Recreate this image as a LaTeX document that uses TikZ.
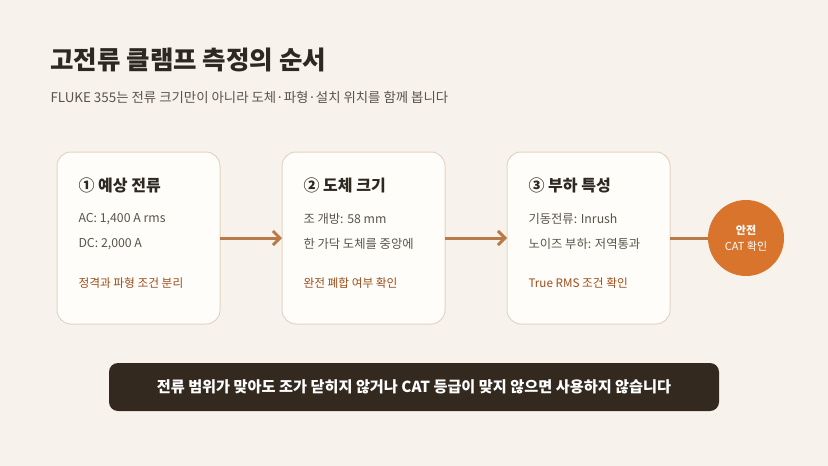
\documentclass[tikz,border=0pt]{standalone}
\usepackage{fontspec}
\setmainfont{Noto Sans CJK KR}
\usetikzlibrary{arrows.meta}
\definecolor{bgcol}{HTML}{F7F3EC}
\definecolor{cardcol}{HTML}{FFFDF9}
\definecolor{edgecol}{HTML}{E2D5C3}
\definecolor{inkcol}{HTML}{2E2822}
\definecolor{graycol}{HTML}{5A534C}
\definecolor{notecol}{HTML}{9A4E1C}
\definecolor{arrowcol}{HTML}{B97A47}
\definecolor{safecol}{HTML}{D8742B}
\definecolor{barcol}{HTML}{33291F}
\tikzset{
  card/.style={draw=edgecol, line width=1pt, fill=cardcol, rounded corners=14pt},
  head/.style={anchor=west, font=\fontsize{16}{18}\selectfont\bfseries, text=inkcol},
  item/.style={anchor=west, font=\fontsize{12.3}{14}\selectfont, text=graycol},
  note/.style={anchor=west, font=\fontsize{11.7}{13}\selectfont, text=notecol},
  flow/.style={draw=arrowcol, line width=3pt, -{Straight Barb[length=7pt,width=14pt]}},
}
\begin{document}
\begin{tikzpicture}[x=1pt,y=-1pt]
  \fill[bgcol] (0,0) rectangle (828,466);
  \useasboundingbox (0,0) rectangle (828,466);

  \node[anchor=west, font=\fontsize{25.5}{28}\selectfont\bfseries, text=inkcol] (title) at (47,60) {고전류 클램프 측정의 순서};
  \node[anchor=west, font=\fontsize{13.4}{15}\selectfont, text=graycol] (sub) at (47,97) {FLUKE 355는 전류 크기만이 아니라 도체·파형·설치 위치를 함께 봅니다};

  % cards
  \draw[card] (57,152) rectangle (220,324);
  \node (cardA) at (138.5,238) {};
  \node[head] at (75,185) {① 예상 전류};
  \node[item] at (75,219) {AC: 1,400 A rms};
  \node[item] at (75,244) {DC: 2,000 A};
  \node[note] at (75,283) {정격과 파형 조건 분리};

  \draw[card] (282,152) rectangle (445,324);
  \node (cardB) at (363.5,238) {};
  \node[head] at (300,185) {② 도체 크기};
  \node[item] at (300,219) {조 개방: 58 mm};
  \node[item] at (300,244) {한 가닥 도체를 중앙에};
  \node[note] at (300,283) {완전 폐합 여부 확인};

  \draw[card] (507,152) rectangle (670,324);
  \node (cardC) at (588.5,238) {};
  \node[head] at (525,185) {③ 부하 특성};
  \node[item] at (525,219) {기동전류: Inrush};
  \node[item] at (525,244) {노이즈 부하: 저역통과};
  \node[note] at (525,283) {True RMS 조건 확인};

  % connectors
  \coordinate (a1) at (220,238);
  \coordinate (b0) at (282,238);
  \coordinate (b1) at (445,238);
  \coordinate (c0) at (507,238);
  \coordinate (c1) at (670,238);
  \draw[flow] (a1) -- (b0);
  \draw[flow] (b1) -- (c0);

  \node[circle, fill=safecol, minimum size=76pt, inner sep=0pt, text=white, align=center,
        font=\fontsize{11}{16}\selectfont] (safe) at (746,238) {\textbf{안전}\\CAT 확인};
  \draw[draw=arrowcol, line width=3pt] (c1) -- (safe);

  \node[fill=barcol, rounded corners=9pt, minimum width=610pt, minimum height=48pt,
        text=white, font=\fontsize{15.2}{18}\selectfont\bfseries] (bar) at (414,387)
        {전류 범위가 맞아도 조가 닫히지 않거나 CAT 등급이 맞지 않으면 사용하지 않습니다};
\end{tikzpicture}
\end{document}
